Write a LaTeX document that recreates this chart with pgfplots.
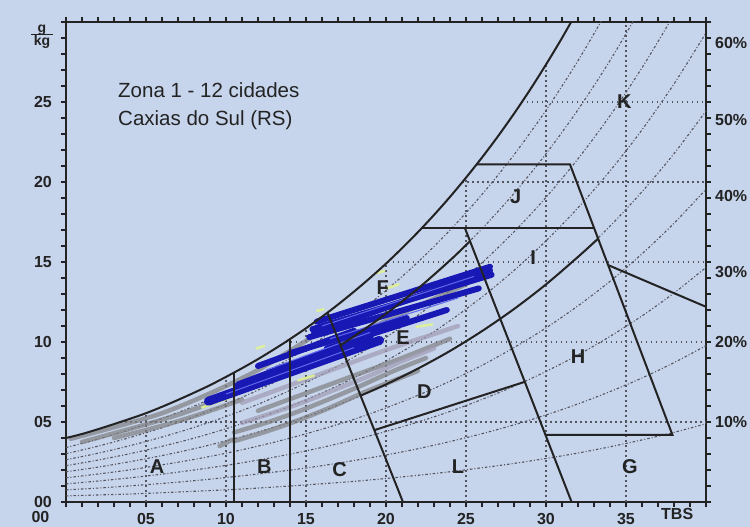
\documentclass[border=0pt]{standalone}
\usepackage{fontspec}
\setmainfont{Liberation Sans}
\usepackage{pgfplots}
\usepackage{pgfplotstable}
\pgfplotsset{compat=1.18}
\definecolor{bg}{RGB}{198,212,236}
\definecolor{ln}{RGB}{35,35,35}
\definecolor{dt}{RGB}{85,85,95}
\definecolor{bl}{RGB}{24,24,180}
\definecolor{blh}{RGB}{95,105,235}
\definecolor{gr}{RGB}{128,128,130}
\definecolor{grl}{RGB}{160,156,180}
\definecolor{yg}{RGB}{225,242,150}

\tikzset{
  grd/.style={dt, line width=1.5pt, dash pattern=on 1.5pt off 3.5pt},
  rhs/.style={dt, line width=1.1pt, smooth, dash pattern=on 2.5pt off 2pt on 1pt off 2pt},
  gd/.style={gr, line width=4.5pt, opacity=0.7, line cap=round, smooth},
  yd/.style={yg, line width=2.5pt, line cap=round, opacity=0.9},
  bd/.style={bl, line width=6pt, line cap=round},
  zn/.style={ln, line width=2pt},
  lt/.style={font=\bfseries\fontsize{20}{24}\selectfont, text=ln, inner sep=0pt},
  al/.style={font=\bfseries\fontsize{16}{18}\selectfont, text=ln, inner sep=0pt},
}

% saturation curve (g/kg)
\pgfplotstableread{
T w
0 4.00
1 4.25
2 4.55
3 4.87
4 5.20
5 5.55
6 5.95
7 6.38
8 6.83
9 7.30
10 7.82
11 8.36
12 8.93
13 9.54
14 10.18
15 10.86
16 11.58
17 12.34
18 13.15
19 14.00
20 14.90
21 15.86
22 16.87
23 17.94
24 19.07
25 20.27
26 21.53
27 22.86
28 24.27
29 25.76
30 27.34
31 29.00
32 30.76
}\sat

% relative humidity curves 10% ... 90%
\pgfplotstableread{
T r10 r20 r30 r40 r50 r60 r70 r80 r90
0 0.38 0.76 1.13 1.51 1.89 2.27 2.64 3.02 3.40
2 0.44 0.87 1.31 1.75 2.18 2.62 3.05 3.49 3.93
4 0.50 1.01 1.51 2.01 2.52 3.02 3.52 4.03 4.53
6 0.58 1.16 1.74 2.32 2.90 3.48 4.06 4.64 5.22
8 0.67 1.33 2.00 2.66 3.33 3.99 4.66 5.33 5.99
10 0.76 1.53 2.29 3.05 3.82 4.58 5.34 6.11 6.87
12 0.87 1.75 2.62 3.49 4.37 5.24 6.11 6.99 7.86
14 1.00 1.99 2.99 3.99 4.99 5.98 6.98 7.98 8.97
16 1.14 2.27 3.41 4.55 5.68 6.82 7.96 9.09 10.23
18 1.29 2.59 3.88 5.17 6.47 7.76 9.06 10.35 11.64
20 1.47 2.94 4.41 5.88 7.35 8.82 10.29 11.76 13.23
22 1.67 3.33 5.00 6.67 8.34 10.00 11.67 13.34 15.00
24 1.89 3.78 5.66 7.55 9.44 11.33 13.22 15.10 16.99
26 2.14 4.27 6.41 8.54 10.68 12.81 14.95 17.08 19.22
28 2.41 4.82 7.23 9.65 12.06 14.47 16.88 19.29 21.70
30 2.72 5.44 8.16 10.88 13.60 16.32 19.04 21.76 24.48
32 3.06 6.13 9.19 12.26 15.32 18.39 21.45 24.52 27.58
34 3.45 6.90 10.35 13.79 17.24 20.69 24.14 27.59 31.04
36 3.88 7.75 11.63 15.51 19.39 23.26 27.14 31.02 34.89
38 4.35 8.71 13.06 17.42 21.77 26.13 30.48 34.84 39.19
40 4.89 9.77 14.66 19.55 24.44 29.32 34.21 39.10 43.98
}\rh

\begin{document}
\begin{tikzpicture}
\path[use as bounding box, fill=bg] (-66pt,-25pt) rectangle (684pt,502pt);
\begin{axis}[
  at={(0,0)}, anchor=south west,
  scale only axis, width=640pt, height=480pt,
  xmin=0, xmax=40, ymin=0, ymax=30,
  clip mode=individual,
  axis line style={ln, line width=2pt},
  tick align=outside,
  major tick length=5pt, minor tick length=5pt,
  tick style={ln, line width=1.4pt},
  xtick={0,5,...,40}, xticklabels={,05,10,15,20,25,30,35,},
  ytick={0,5,...,30}, yticklabels={00,05,10,15,20,25,},
  minor tick num=4,
  ticklabel style={font=\bfseries\fontsize{16}{18}\selectfont, text=ln},
  xticklabel style={anchor=north, inner sep=0pt, yshift=-6pt},
  yticklabel style={anchor=east, inner sep=0pt, xshift=-9pt},
]
% dotted grid below the saturation curve
\addplot[grd] coordinates {(5,0) (5,5.55)};
\addplot[grd] coordinates {(10,0) (10,7.82)};
\addplot[grd] coordinates {(15,0) (15,10.86)};
\addplot[grd] coordinates {(20,0) (20,14.90)};
\addplot[grd] coordinates {(25,0) (25,20.27)};
\addplot[grd] coordinates {(30,0) (30,27.34)};
\addplot[grd] coordinates {(35,0) (35,30)};
\addplot[grd] coordinates {(3.39,5) (40,5)};
\addplot[grd] coordinates {(13.72,10) (40,10)};
\addplot[grd] coordinates {(20.1,15) (40,15)};
\addplot[grd] coordinates {(24.78,20) (40,20)};
\addplot[grd] coordinates {(28.49,25) (40,25)};
% relative humidity curves
\addplot[rhs] table[x=T,y=r10] {\rh};
\addplot[rhs] table[x=T,y=r20] {\rh};
\addplot[rhs] table[x=T,y=r30] {\rh};
\addplot[rhs] table[x=T,y=r40] {\rh};
\addplot[rhs] table[x=T,y=r50] {\rh};
\addplot[rhs] table[x=T,y=r60] {\rh};
\addplot[rhs] table[x=T,y=r70] {\rh};
\addplot[rhs] table[x=T,y=r80] {\rh};
\addplot[rhs] table[x=T,y=r90] {\rh};
% hourly data of the 12 cities (grey)
\addplot[gd] coordinates {(0.3,3.95) (2,4.4) (4,4.95) (6,5.55) (8,6.35) (10,7.25) (12,8.25) (14,9.45) (16,10.7)};
\addplot[gd] coordinates {(1,3.75) (3,4.3) (5,4.85) (7,5.45) (9,6.15) (11,6.95) (13,7.85) (15,8.85) (17,9.85) (19,10.85) (21,11.8) (23,12.7) (25,13.6)};
\addplot[gd] coordinates {(3,4.0) (5,4.5) (7,5.05) (9,5.7) (11,6.4)};
\addplot[gd,grl] coordinates {(17,10.9) (20,12.2) (23,13.4) (25.5,14.3)};
\addplot[gd,grl] coordinates {(11,6.2) (14,7.3) (17,8.4) (20,9.5) (23,10.5) (24.5,11.0)};
\addplot[gd] coordinates {(12,5.7) (15,6.8) (18,7.9) (21,9.0) (24,10.2)};
\addplot[gd] coordinates {(10.5,3.8) (12.5,4.4) (14.5,5.1) (16.5,5.9) (18.5,6.8) (20.5,7.6) (22,8.2)};
\addplot[gd] coordinates {(10.5,4.35) (12.5,4.95) (14.5,5.65) (16.5,6.45) (18.5,7.3) (20.5,8.2) (22.5,9.0)};
\addplot[gd,grl] coordinates {(11,4.95) (13,5.6) (15,6.3) (17,7.1) (19,7.9) (21,8.8) (23,9.6)};
\addplot[gd] coordinates {(9.6,3.5) (10.4,3.9)};
% a few light highlights
\addplot[yd] coordinates {(8.5,5.9) (10.2,6.5)};
\addplot[yd] coordinates {(11.9,9.6) (12.4,9.75)};
\addplot[yd] coordinates {(15.7,11.95) (16.1,12.05)};
\addplot[yd] coordinates {(19.4,14.3) (19.9,14.45)};
\addplot[yd] coordinates {(20.0,13.35) (20.8,13.6)};
\addplot[yd] coordinates {(21.9,10.95) (22.9,11.1)};
\addplot[yd] coordinates {(14.5,7.6) (15.5,7.9)};
% hourly data of Caxias do Sul (blue)
\addplot[bd] coordinates {(15.67,11.27) (26.5,14.7)};
\addplot[bd] coordinates {(15.5,10.55) (26.5,14.45)};
\addplot[bd] coordinates {(15.4,10.8) (26.6,14.2)};
\addplot[bd] coordinates {(15.2,10.3) (25.8,13.35)};
\addplot[bd] coordinates {(16.3,9.6) (23.8,12.0)};
\addplot[bd] coordinates {(14.0,9.3) (21.3,11.5)};
\addplot[bd, line width=9pt] coordinates {(8.9,6.3) (19.6,10.1)};
\addplot[bd, line width=8pt] coordinates {(10.8,7.3) (19.0,10.4)};
\addplot[bd] coordinates {(12,8.5) (18,10.7)};
\addplot[blh, line width=1pt] coordinates {(16,11.0) (25.5,14.1)};
\addplot[blh, line width=1pt] coordinates {(16.5,10.2) (24.5,12.75)};
\addplot[blh, line width=1pt] coordinates {(10,6.75) (18,9.65)};
\addplot[blh, line width=1pt] coordinates {(12.5,8.25) (19,10.6)};
% zone boundaries
\addplot[zn, smooth] table[x=T,y=w] {\sat};
\addplot[zn] coordinates {(10.5,0) (10.5,8.09)};
\addplot[zn] coordinates {(14,0) (14,10.18)};
\addplot[zn] coordinates {(16.35,11.82) (21.06,0)};
\addplot[zn] coordinates {(19.3,4.5) (28.64,7.5)};
\addplot[zn, smooth] coordinates {(18.4,6.64) (20,7.35) (22,8.34) (24,9.44) (26,10.68) (28,12.06) (30,13.60) (32,15.32) (33.25,16.45)};
\addplot[zn, smooth] coordinates {(17.15,9.8) (18,10.35) (20,11.76) (22,13.34) (24,15.10) (25.25,16.3)};
\addplot[zn] coordinates {(24.94,17.1) (31.6,0)};
\addplot[zn] coordinates {(22.21,17.1) (33.0,17.1)};
\addplot[zn] coordinates {(25.66,21.1) (31.5,21.1) (37.9,4.2) (29.95,4.2)};
\addplot[zn] coordinates {(33.9,14.8) (40,12.2)};
% zone letters
\node[lt] at (axis cs:5.7,2.2) {A};
\node[lt] at (axis cs:12.4,2.2) {B};
\node[lt] at (axis cs:17.1,2.0) {C};
\node[lt] at (axis cs:22.4,6.9) {D};
\node[lt] at (axis cs:21.06,10.25) {E};
\node[lt] at (axis cs:19.8,13.4) {F};
\node[lt] at (axis cs:35.25,2.2) {G};
\node[lt] at (axis cs:32.0,9.06) {H};
\node[lt] at (axis cs:29.2,15.25) {I};
\node[lt] at (axis cs:28.1,19.1) {J};
\node[lt] at (axis cs:34.9,25.0) {K};
\node[lt] at (axis cs:24.5,2.2) {L};
% title text
\node[anchor=base west, font=\fontsize{20.5}{24}\selectfont, text=ln, inner sep=0pt] at (axis cs:3.25,25.3) {Zona 1 - 12 cidades};
\node[anchor=base west, font=\fontsize{20.5}{24}\selectfont, text=ln, inner sep=0pt] at (axis cs:3.25,23.5) {Caxias do Sul (RS)};
% axis annotations
\node[al, anchor=north] at (axis cs:-1.6,0) [yshift=-9pt] {00};
\node[al, anchor=north] at (axis cs:38.2,0) [yshift=-6pt] {TBS};
\node[al, font=\bfseries\fontsize{14}{15}\selectfont] at (axis cs:-1.5,29.1) {\begin{tabular}{@{\,}c@{\,}}g\\[-3pt]\hline\rule{0pt}{11pt}kg\end{tabular}};
\node[al, anchor=west] at (axis cs:40,5.0) [xshift=9pt] {10\%};
\node[al, anchor=west] at (axis cs:40,10.0) [xshift=9pt] {20\%};
\node[al, anchor=west] at (axis cs:40,14.4) [xshift=9pt] {30\%};
\node[al, anchor=west] at (axis cs:40,19.1) [xshift=9pt] {40\%};
\node[al, anchor=west] at (axis cs:40,23.9) [xshift=9pt] {50\%};
\node[al, anchor=west] at (axis cs:40,28.7) [xshift=9pt] {60\%};
\end{axis}
\end{tikzpicture}
\end{document}
